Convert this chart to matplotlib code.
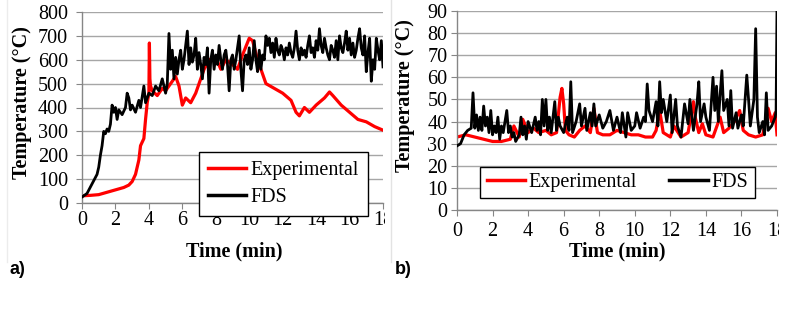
import matplotlib
matplotlib.use("Agg")
import matplotlib.pyplot as plt
from matplotlib.transforms import Bbox, TransformedBbox
from matplotlib.lines import Line2D

# ---------------- data: panel a ----------------
a_exp_t = [0, 0.5, 1.0, 1.5, 2.0, 2.5, 2.8, 3.0, 3.2, 3.4, 3.5, 3.7, 3.8, 3.9, 4.0, 4.03, 4.06, 4.1,
           4.2, 4.5, 4.8, 5.0, 5.3, 5.6, 5.8, 6.0, 6.2, 6.5, 6.8, 7.0, 7.3, 7.6, 8.0, 8.3, 8.6, 9.0,
           9.3, 9.6, 10.0, 10.2, 10.5, 10.8, 11.0, 11.5, 12.0, 12.5, 12.8, 13.0, 13.3, 13.6, 14.0,
           14.5, 14.8, 15.0, 15.5, 16.0, 16.5, 17.0, 17.5, 18.0]
a_exp_v = [30, 32, 35, 45, 55, 65, 75, 90, 120, 180, 240, 270, 350, 420, 460, 670, 520, 490,
           470, 450, 480, 470, 500, 530, 490, 410, 440, 420, 460, 500, 560, 600, 610, 560, 600, 580,
           560, 620, 690, 680, 600, 540, 500, 480, 460, 430, 380, 365, 400, 380, 410,
           440, 465, 450, 410, 380, 350, 340, 320, 305]

a_fds_t = [0, 0.3, 0.6, 0.9, 1.0, 1.1, 1.2, 1.3, 1.4, 1.5, 1.6, 1.7, 1.8, 1.9, 2.0, 2.1, 2.2, 2.4,
           2.6, 2.7, 2.8, 2.9, 3.0, 3.2, 3.4, 3.5, 3.7, 3.8, 4.0, 4.2, 4.4, 4.6, 4.8,
           5.0, 5.1, 5.2, 5.3, 5.4, 5.5, 5.6, 5.7, 5.8, 5.9,
           6.0, 6.1, 6.2, 6.3, 6.4, 6.5, 6.6, 6.7, 6.8, 6.9,
           7.0, 7.1, 7.2, 7.3, 7.4, 7.5, 7.6, 7.7, 7.8, 7.9,
           8.0, 8.1, 8.2, 8.3, 8.4, 8.5, 8.6, 8.7, 8.8, 8.9,
           9.0, 9.1, 9.2, 9.3, 9.4, 9.5, 9.6, 9.7, 9.8, 9.9,
           10.0, 10.1, 10.2, 10.3, 10.4, 10.5, 10.6, 10.7, 10.8, 10.9,
           11.0, 11.1, 11.2, 11.3, 11.4, 11.5, 11.6, 11.7, 11.8, 11.9,
           12.0, 12.1, 12.2, 12.3, 12.4, 12.5, 12.6, 12.7, 12.8, 12.9,
           13.0, 13.1, 13.2, 13.3, 13.4, 13.5, 13.6, 13.7, 13.8, 13.9,
           14.0, 14.1, 14.2, 14.3, 14.4, 14.5, 14.6, 14.7, 14.8, 14.9,
           15.0, 15.1, 15.2, 15.3, 15.4, 15.5, 15.6, 15.7, 15.8, 15.9,
           16.0, 16.1, 16.2, 16.3, 16.4, 16.5, 16.6, 16.7, 16.8, 16.9,
           17.0, 17.1, 17.2, 17.3, 17.4, 17.5, 17.6, 17.7, 17.8, 17.9, 18.0]
a_fds_v = [25, 40, 80, 120, 150, 200, 240, 300, 290, 310, 300, 330, 410, 380, 400, 350, 390, 370,
           400, 460, 440, 390, 410, 380, 430, 400, 490, 420, 460, 450, 490, 470, 520,
           460, 500, 710, 560, 640, 520, 610, 540, 600, 640,
           560, 600, 660, 720, 580, 650, 590, 620, 690, 560,
           630, 580, 520, 610, 580, 650, 460, 600, 640, 560,
           620, 580, 660, 600, 560, 620, 640, 580, 470, 600,
           620, 560, 600, 650, 700, 560, 470, 600, 620, 580,
           650, 560, 600, 680, 600, 550, 640, 560, 620, 600,
           700, 660, 690, 630, 670, 610, 690, 640, 620, 660,
           640, 600, 650, 620, 670, 630, 610, 650, 720, 640,
           600, 650, 620, 640, 610, 660, 700, 630, 650, 610,
           680, 640, 730, 660, 630, 690, 650, 620, 600, 660,
           640, 610, 680, 600, 700, 650, 630, 670, 720, 640,
           690, 620, 670, 610, 640, 690, 730, 650, 620, 700,
           550, 630, 690, 510, 600, 560, 690, 640, 600, 680, 570]

# ---------------- data: panel b ----------------
b_exp_t = [0, 0.5, 1.0, 1.5, 2.0, 2.5, 3.0, 3.2, 3.5, 3.7, 4.0, 4.3, 4.6, 5.0, 5.3, 5.6, 5.8, 5.9,
           6.0, 6.1, 6.3, 6.6, 6.9, 7.2, 7.5, 7.7, 7.9, 8.2, 8.6, 9.0, 9.4, 9.8, 10.2, 10.6, 11.0,
           11.2, 11.4, 11.6, 12.0, 12.2, 12.6, 13.0, 13.3, 13.4, 13.6, 13.8, 14.0, 14.4, 14.8, 15.0,
           15.3, 15.6, 15.9, 16.1, 16.4, 16.8, 17.2, 17.5, 17.7, 17.9, 18.0]
b_exp_v = [33, 34, 33, 32, 31, 31, 32, 38, 33, 41, 35, 37, 35, 36, 34, 35, 51, 55,
           48, 36, 34, 33, 36, 38, 35, 46, 35, 34, 34, 36, 35, 34, 34, 33, 33,
           36, 45, 35, 33, 38, 33, 35, 49, 42, 35, 39, 34, 33, 42, 35,
           37, 40, 45, 36, 34, 33, 34, 46, 40, 44, 34]

b_fds_t = [0, 0.2, 0.4, 0.6, 0.8, 0.9, 1.0, 1.1, 1.2, 1.3, 1.4, 1.5, 1.6, 1.7, 1.8, 1.9, 2.0, 2.1,
           2.2, 2.3, 2.4, 2.5, 2.6, 2.7, 2.8, 2.9, 3.0, 3.1, 3.2, 3.3, 3.5, 3.6, 3.7, 3.8, 3.9, 4.0,
           4.2, 4.4, 4.5, 4.6, 4.7, 4.8, 4.9, 5.0, 5.1, 5.2, 5.3, 5.5, 5.6, 5.7, 5.8, 6.0, 6.2, 6.3,
           6.4, 6.5, 6.7, 6.9, 7.0, 7.2, 7.3, 7.5, 7.6, 7.7, 7.8, 8.0, 8.2, 8.4, 8.6, 8.8, 9.0, 9.2,
           9.3, 9.5, 9.6, 9.8, 10.0, 10.1, 10.3, 10.5, 10.6, 10.7, 10.8, 11.0, 11.2, 11.3, 11.4, 11.5,
           11.6, 11.8, 12.0, 12.1, 12.3, 12.4, 12.6, 12.8, 13.0, 13.1, 13.3, 13.5, 13.6, 13.7, 13.9,
           14.0, 14.2, 14.4, 14.5, 14.6, 14.7, 14.8, 14.9, 15.0, 15.2, 15.3, 15.4, 15.5, 15.7, 15.8,
           16.0, 16.1, 16.3, 16.4, 16.5, 16.7, 16.8, 16.9, 17.0, 17.2, 17.3, 17.4, 17.5, 17.7, 17.9,
           17.95, 18.0]
b_fds_v = [29, 30, 34, 36, 37, 53, 37, 43, 36, 42, 36, 47, 38, 42, 35, 45, 34, 38,
           35, 42, 32, 38, 35, 40, 45, 35, 38, 33, 35, 31, 34, 42, 34, 38, 32, 40,
           35, 42, 36, 40, 34, 50, 38, 50, 36, 42, 35, 49, 36, 42, 38, 35, 42, 36,
           58, 35, 40, 48, 38, 46, 36, 44, 38, 48, 38, 43, 37, 40, 45, 36, 42, 35,
           44, 33, 44, 36, 38, 44, 37, 42, 40, 57, 45, 40, 49, 38, 58, 44,
           50, 40, 52, 35, 50, 38, 33, 48, 39, 50, 36, 48, 58, 40, 48,
           42, 36, 60, 45, 56, 40, 52, 63, 45, 50, 38, 54, 37, 44, 37,
           43, 38, 61, 50, 38, 50, 82, 42, 35, 40, 34, 53, 36, 38, 42,
           45, 92]

xticks = [0, 2, 4, 6, 8, 10, 12, 14, 16, 18]
a_yticks = [0, 100, 200, 300, 400, 500, 600, 700, 800]
b_yticks = [0, 10, 20, 30, 40, 50, 60, 70, 80, 90]

W, H = 798, 313
fig = plt.figure(figsize=(W / 100, H / 100), dpi=100)
serif = "Liberation Serif"
FS = 14.5
GRID = "#a6a6a6"
SPINE = "#868686"


def px_axes(l, t, r, b):
    return fig.add_axes([l / W, 1 - b / H, (r - l) / W, (b - t) / H])


def style(ax, ylim, yticks, ypad, xpad, clip_right):
    ax.set_xlim(0, 18)
    ax.set_ylim(*ylim)
    ax.set_xticks(xticks)
    ax.set_yticks(yticks)
    for s in ("top", "right"):
        ax.spines[s].set_visible(False)
    for s in ("left", "bottom"):
        ax.spines[s].set_color(SPINE)
        ax.spines[s].set_linewidth(1)
    ax.yaxis.grid(True, color=GRID, linewidth=1)
    ax.set_axisbelow(True)
    ax.tick_params(axis="x", length=4, color=SPINE, pad=xpad, labelsize=FS)
    ax.tick_params(axis="y", length=4, color=SPINE, pad=ypad, labelsize=FS)
    for lab in ax.get_xticklabels() + ax.get_yticklabels():
        lab.set_fontfamily(serif)
    clipbox = TransformedBbox(Bbox([[0, 0], [clip_right / W, 1]]), fig.transFigure)
    for lab in ax.get_xticklabels():
        lab.set_clip_box(clipbox)
        lab.set_clip_on(True)


# ---------------- panel a ----------------
ax1 = px_axes(82, 12, 383, 203)
ax1.plot(a_exp_t, a_exp_v, color="#ff0000", lw=2.3, label="Experimental", zorder=2)
ax1.plot(a_fds_t, a_fds_v, color="black", lw=2.0, label="FDS", zorder=3)
style(ax1, (0, 800), a_yticks, 6, 2, 385)
ax1.set_xlabel("Time (min)", fontfamily=serif, fontsize=FS, fontweight="bold")
ax1.set_ylabel("Temperature (\u00b0C)", fontfamily=serif, fontsize=FS, fontweight="bold")
ax1.xaxis.set_label_coords(0.505, -0.20)
ax1.yaxis.set_label_coords(-0.166, 0.524)
leg1 = ax1.legend(loc="center", bbox_to_anchor=(283.5 / W, 1 - 184 / H),
                  bbox_transform=fig.transFigure, frameon=True, fancybox=False,
                  edgecolor="black", framealpha=1, borderpad=0.45, handlelength=1.9,
                  handletextpad=0.2, labelspacing=0.35,
                  prop={"family": serif, "size": FS})
leg1.get_frame().set_linewidth(1)
for l in leg1.get_lines():
    l.set_linewidth(2.5)

# ---------------- panel b ----------------
ax2 = px_axes(457, 11, 777, 210)
ax2.plot(b_exp_t, b_exp_v, color="#ff0000", lw=2.3, label="Experimental", zorder=2)
ax2.plot(b_fds_t, b_fds_v, color="black", lw=2.0, label="FDS", zorder=3)
style(ax2, (0, 90), b_yticks, 3, 5, 779)
ax2.set_xlabel("Time (min)", fontfamily=serif, fontsize=FS, fontweight="bold")
ax2.set_ylabel("Temperature (\u00b0C)", fontfamily=serif, fontsize=FS, fontweight="bold")
ax2.xaxis.set_label_coords(0.5, -0.158)
ax2.yaxis.set_label_coords(-0.131, 0.573)
leg2 = ax2.legend(loc="center", bbox_to_anchor=(617.5 / W, 1 - 182.5 / H),
                  bbox_transform=fig.transFigure, ncol=2, frameon=True, fancybox=False,
                  edgecolor="black", framealpha=1, borderpad=0.3, handlelength=1.9,
                  handletextpad=0.2, columnspacing=1.6, borderaxespad=0,
                  prop={"family": serif, "size": FS})
leg2.get_frame().set_linewidth(1)
for l in leg2.get_lines():
    l.set_linewidth(2.5)

# panel image borders
fig.add_artist(Line2D([391 / W, 391 / W], [1 - 262 / H, 1], transform=fig.transFigure,
                      color="#e3e3e3", lw=1))
fig.add_artist(Line2D([7 / W, 7 / W], [1 - 262 / H, 1], transform=fig.transFigure,
                      color="#ececec", lw=1))

fig.text(10 / W, 1 - 270 / H, "a)", fontfamily="Liberation Sans", fontweight="bold",
         fontsize=13, va="center", ha="left")
fig.text(395 / W, 1 - 270 / H, "b)", fontfamily="Liberation Sans", fontweight="bold",
         fontsize=13, va="center", ha="left")

fig.savefig("out.png", dpi=100)
